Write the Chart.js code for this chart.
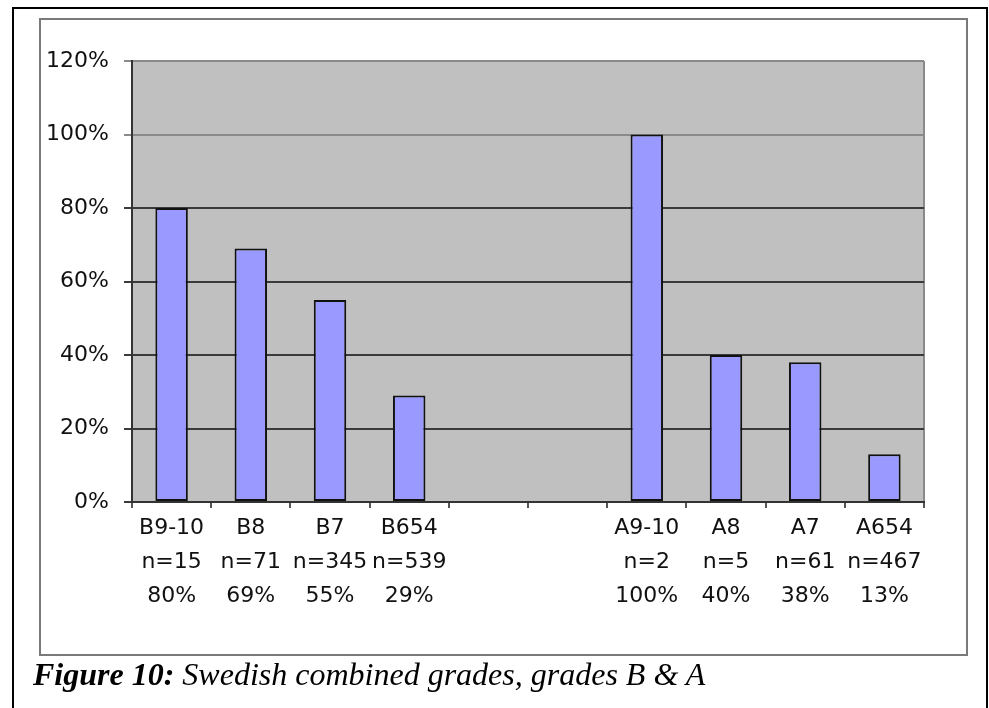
<!DOCTYPE html>
<html>
<head>
<meta charset="utf-8">
<script src="https://cdn.jsdelivr.net/npm/chart.js@4.4.1/dist/chart.umd.min.js"></script>
<style>
  html, body { margin: 0; padding: 0; width: 989px; height: 708px; overflow: hidden; background: #fff; }
  #outer { position: absolute; left: 12px; top: 7px; width: 972px; height: 760px; border: 2px solid #000; }
  #inner { position: absolute; left: 39px; top: 18px; width: 925px; height: 634px; border: 2px solid #7a7a7a; }
  #chartWrap { position: absolute; left: 0; top: 0; width: 989px; height: 708px; }
  #caption { position: absolute; left: 33px; top: 658px; font-family: "Liberation Serif", "Times New Roman", serif;
             font-style: italic; font-size: 32px; line-height: 32px; color: #000; white-space: nowrap; }
  #caption b { font-weight: bold; }
</style>
</head>
<body>
<div id="outer"></div>
<div id="inner"></div>
<div id="chartWrap"><canvas id="gradesChart" width="989" height="708"></canvas></div>
<div id="caption"><b>Figure 10:</b> Swedish combined grades, grades B &amp; A</div>

<script>
// Swedish combined grades, B and A groups (two empty slots keep the gap)
const gradeNames = ['B9-10', 'B8', 'B7', 'B654', '', '', 'A9-10', 'A8', 'A7', 'A654'];
const sampleSizes = ['n=15', 'n=71', 'n=345', 'n=539', '', '', 'n=2', 'n=5', 'n=61', 'n=467'];
const shares = [80, 69, 55, 29, null, null, 100, 40, 38, 13];
const yTicks = [0, 20, 40, 60, 80, 100, 120];

// Three-line category labels: grade, sample size, share
const labels = gradeNames.map((name, i) =>
    name ? [name, sampleSizes[i], shares[i] + '%'] : ['', '', '']);

// Gray plot area plus the thin right-hand border
const plotBackground = {
    id: 'plotBackground',
    beforeDraw(chart) {
        const { ctx, chartArea: a } = chart;
        ctx.save();
        ctx.fillStyle = '#c0c0c0';
        ctx.fillRect(a.left, a.top, a.right - a.left, a.bottom - a.top);
        ctx.strokeStyle = '#8a8a8a';
        ctx.lineWidth = 2;
        ctx.beginPath();
        ctx.moveTo(a.right, a.top);
        ctx.lineTo(a.right, a.bottom);
        ctx.stroke();
        ctx.restore();
    }
};

const tickFont = { family: '"DejaVu Sans", Verdana, sans-serif', size: 22 };

new Chart(document.getElementById('gradesChart'), {
    type: 'bar',
    data: {
        labels: labels,
        datasets: [{
            data: shares,
            backgroundColor: '#9999ff',
            borderColor: '#111',
            borderWidth: 2,
            borderSkipped: false,
            categoryPercentage: 1,
            barPercentage: 0.41
        }]
    },
    options: {
        responsive: false,
        animation: false,
        layout: { padding: { left: 0, top: 61, right: 65, bottom: 86 } },
        plugins: { legend: { display: false }, tooltip: { enabled: false } },
        scales: {
            x: {
                grid: { display: true, drawOnChartArea: false, drawTicks: true, tickLength: 6, color: '#555', lineWidth: 2 },
                border: { display: true, color: '#333', width: 2 },
                ticks: { autoSkip: false, maxRotation: 0, padding: 3, color: '#111',
                         font: { ...tickFont, lineHeight: 1.55 } },
                afterFit(scale) { scale.height = 120; }
            },
            y: {
                min: 0,
                max: 120,
                afterBuildTicks(scale) { scale.ticks = yTicks.map(v => ({ value: v })); },
                grid: {
                    color: ctx => (ctx.tick && ctx.tick.value >= 100) ? '#8a8a8a' : '#3a3a3a',
                    lineWidth: 2,
                    tickLength: 8
                },
                border: { display: true, color: '#333', width: 2 },
                ticks: { padding: 15, color: '#111', font: tickFont, callback: v => v + '%' },
                afterFit(scale) { scale.width = 132; }
            }
        }
    },
    plugins: [plotBackground]
});
</script>
</body>
</html>
